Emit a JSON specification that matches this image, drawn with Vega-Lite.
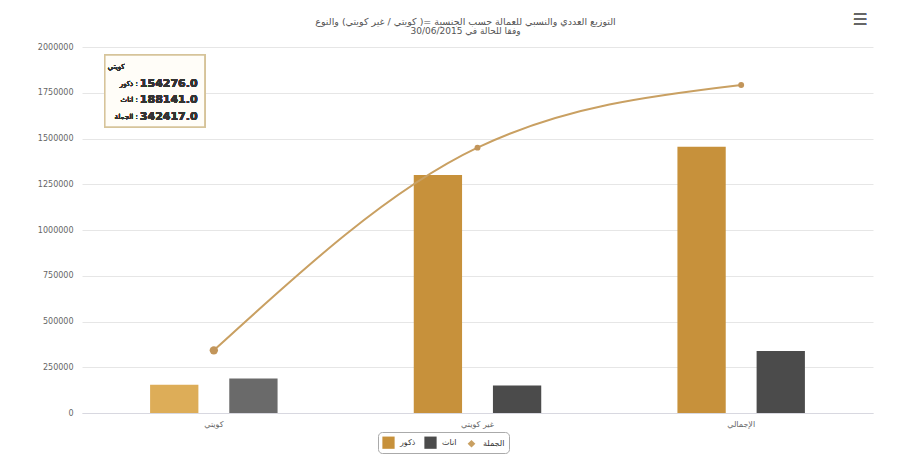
{
  "$schema": "https://vega.github.io/schema/vega-lite/v6.json",
  "autosize": {"type": "none"},
  "padding": {"left": 82, "top": 47, "right": 34, "bottom": 57},
  "width": 791,
  "height": 366,
  "background": "white",
  "config": {
    "font": "DejaVu Sans",
    "view": {"stroke": null}
  },
  "title": {
    "text": "التوزيع العددي والنسبي للعمالة حسب الجنسية =( كويتي / غير كويتي) والنوع",
    "subtitle": "وفقا للحالة في 30/06/2015",
    "fontSize": 9.5,
    "fontWeight": "normal",
    "color": "#555555",
    "subtitleFontSize": 9,
    "subtitleColor": "#555555",
    "subtitlePadding": 1,
    "offset": -24,
    "anchor": "middle",
    "dx": -12
  },
  "data": {
    "values": [
      {"category": "كويتي", "series": "ذكور", "value": 154276},
      {"category": "كويتي", "series": "اناث", "value": 188141},
      {"category": "كويتي", "series": "الجملة", "value": 342417},
      {"category": "غير كويتي", "series": "ذكور", "value": 1300000},
      {"category": "غير كويتي", "series": "اناث", "value": 150000},
      {"category": "غير كويتي", "series": "الجملة", "value": 1450000},
      {"category": "الإجمالي", "series": "ذكور", "value": 1454276},
      {"category": "الإجمالي", "series": "اناث", "value": 338141},
      {"category": "الإجمالي", "series": "الجملة", "value": 1792417}
    ]
  },
  "encoding": {
    "x": {
      "field": "category",
      "type": "nominal",
      "sort": ["كويتي", "غير كويتي", "الإجمالي"],
      "scale": {"paddingInner": 0, "paddingOuter": 0},
      "axis": {
        "title": null,
        "labelAngle": 0,
        "labelFontSize": 8,
        "labelColor": "#666666",
        "domainColor": "#d8d8e0",
        "tickColor": "#d8d8e0",
        "tickSize": 0,
        "labelPadding": 7
      }
    },
    "y": {
      "field": "value",
      "type": "quantitative",
      "scale": {"domain": [0, 2000000], "nice": false},
      "axis": {
        "title": null,
        "values": [0, 250000, 500000, 750000, 1000000, 1250000, 1500000, 1750000, 2000000],
        "format": "d",
        "labelFontSize": 8,
        "labelColor": "#666666",
        "labelPadding": 9,
        "domain": false,
        "ticks": false,
        "gridColor": "#e6e6e6"
      }
    }
  },
  "layer": [
    {
      "transform": [{"filter": "datum.series !== 'الجملة'"}],
      "mark": {"type": "bar"},
      "encoding": {
        "xOffset": {
          "field": "series",
          "type": "nominal",
          "sort": ["ذكور", "اناث"],
          "scale": {"paddingInner": 0.39, "paddingOuter": 0.86}
        },
        "color": {
          "condition": [
            {"test": "datum.category === 'كويتي' && datum.series === 'ذكور'", "value": "#ddad58"},
            {"test": "datum.category === 'كويتي' && datum.series === 'اناث'", "value": "#6a6a6a"}
          ],
          "field": "series",
          "type": "nominal",
          "scale": {"domain": ["ذكور", "اناث", "الجملة"], "range": ["#c7913b", "#4b4b4b", "#c9a062"]},
          "legend": {
            "title": null,
            "orient": "none",
            "legendX": 296,
            "legendY": 385,
            "direction": "horizontal",
            "labelFontSize": 8,
            "labelColor": "#333333",
            "symbolType": "square",
            "symbolSize": 150,
            "symbolStrokeWidth": 0,
            "columnPadding": 8,
            "labelOffset": 5,
            "strokeColor": "#aaaaaa",
            "cornerRadius": 4,
            "padding": 4,
            "fillColor": "#ffffff",
            "encode": {
              "symbols": {
                "update": {
                  "shape": {"signal": "datum.value === 'الجملة' ? 'diamond' : 'square'"},
                  "size": {"signal": "datum.value === 'الجملة' ? 60 : 150"}
                }
              }
            }
          }
        }
      }
    },
    {
      "transform": [{"filter": "datum.series === 'الجملة'"}],
      "mark": {"type": "line", "interpolate": "monotone", "strokeWidth": 2, "color": "#c9a062"},
      "encoding": {}
    },
    {
      "transform": [{"filter": "datum.series === 'الجملة'"}],
      "mark": {"type": "point", "filled": true, "opacity": 1, "color": "#c2955a"},
      "encoding": {
        "size": {"condition": {"test": "datum.category === 'كويتي'", "value": 70}, "value": 35}
      }
    },
    {
      "mark": {
        "type": "point",
        "shape": "M-1,-0.72L1,-0.72L1,0.72L-1,0.72Z",
        "size": 10000,
        "filled": true,
        "fill": "#fffdf8",
        "stroke": "#d6c49a",
        "strokeWidth": 1.5,
        "opacity": 1,
        "xOffset": -59
      },
      "encoding": {
        "x": {"datum": "كويتي"},
        "y": {"datum": 1760000}
      }
    },
    {
      "mark": {"type": "text", "align": "left", "fontSize": 7, "color": "#333333", "xOffset": -106},
      "encoding": {
        "x": {"datum": "كويتي"},
        "y": {"datum": 1890000},
        "text": {"value": "كويتي"}
      }
    },
    {
      "mark": {"type": "text", "align": "right", "fontSize": 7, "color": "#333333", "xOffset": -76, "lineHeight": 16.5},
      "encoding": {
        "x": {"datum": "كويتي"},
        "y": {"datum": 1800000},
        "text": {"value": ["ذكور :", "اناث :", "الجملة :"]}
      }
    },
    {
      "mark": {"type": "text", "align": "left", "fontSize": 11, "fontWeight": "bold", "color": "#333333", "xOffset": -74, "lineHeight": 16.5},
      "encoding": {
        "x": {"datum": "كويتي"},
        "y": {"datum": 1800000},
        "text": {"value": ["154276.0", "188141.0", "342417.0"]}
      }
    },
    {
      "mark": {"type": "text", "fontSize": 16, "color": "#666666", "xOffset": 119, "clip": false},
      "encoding": {
        "x": {"datum": "الإجمالي"},
        "y": {"datum": 2147000},
        "text": {"value": "☰"}
      }
    }
  ]
}
